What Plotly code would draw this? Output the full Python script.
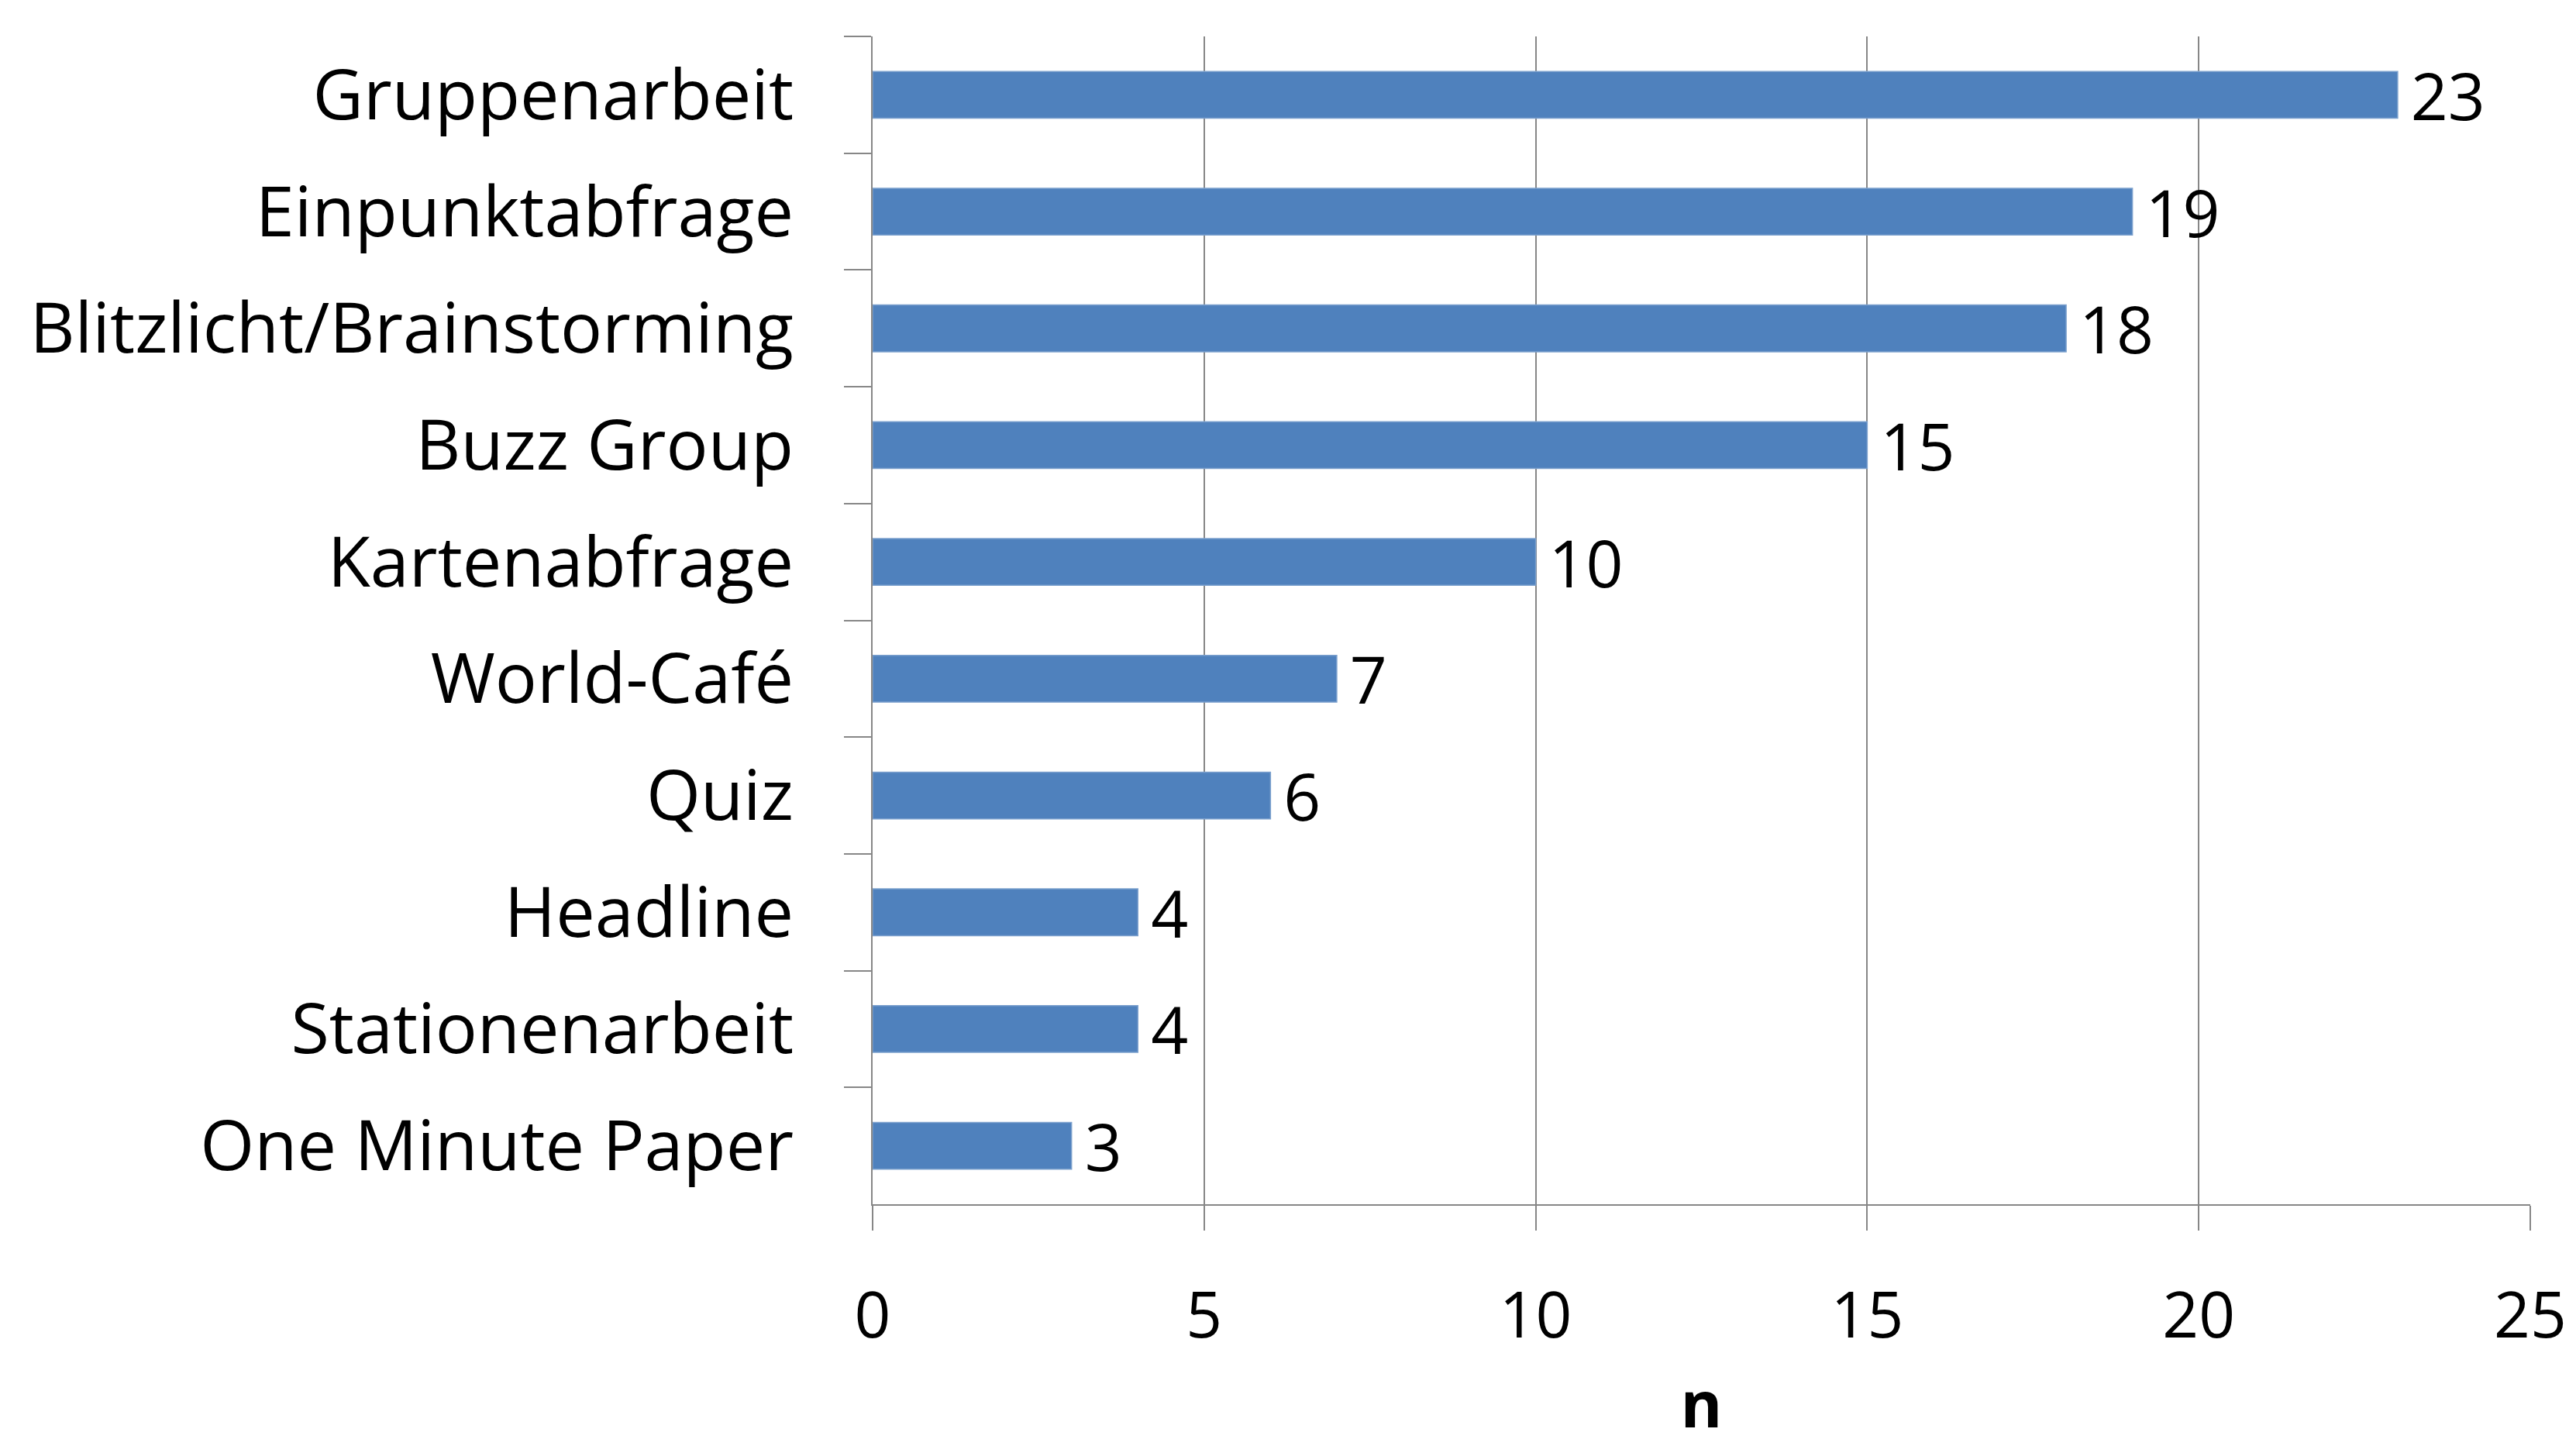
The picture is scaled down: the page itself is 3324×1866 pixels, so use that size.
import plotly.graph_objects as go

categories = ["Gruppenarbeit", "Einpunktabfrage", "Blitzlicht/Brainstorming", "Buzz Group",
              "Kartenabfrage", "World-Café", "Quiz", "Headline", "Stationenarbeit", "One Minute Paper"]
values = [23, 19, 18, 15, 10, 7, 6, 4, 4, 3]
x_ticks = [0, 5, 10, 15, 20, 25]

FONT = "Open Sans"
GRAY = "#878787"

fig = go.Figure(go.Bar(
    x=values, y=categories, orientation="h",
    marker=dict(color="#4F81BD", line=dict(color="#7BA0CD", width=1.5)),
    width=0.4,
    texttemplate="\u2009%{x}", textposition="outside", constraintext="none",
    textfont=dict(family=FONT, size=84, color="black"),
    cliponaxis=False,
))

fig.update_layout(
    width=3324, height=1866,
    margin=dict(l=1126, r=59, t=47, b=312),
    paper_bgcolor="white", plot_bgcolor="white",
    showlegend=False,
    font=dict(family=FONT, color="black"),
    bargap=0.6,
)
fig.update_xaxes(
    range=[0, 25], tickvals=x_ticks, ticktext=[str(t) for t in x_ticks],
    showgrid=True, gridcolor=GRAY, gridwidth=2,
    showline=True, linecolor=GRAY, linewidth=2,
    ticks="outside", ticklen=32, tickcolor=GRAY, tickwidth=2,
    tickfont=dict(family=FONT, size=82, color="black"),
    ticklabelstandoff=40,
    zeroline=False, automargin=False,
    title=dict(text="<b>n</b>", font=dict(family=FONT, size=82, color="black"), standoff=70),
)
fig.update_yaxes(
    categoryorder="array", categoryarray=categories, autorange="reversed",
    showgrid=False, automargin=False,
    showline=True, linecolor=GRAY, linewidth=2,
    ticks="outside", ticklen=35, tickcolor=GRAY, tickwidth=2, tickson="boundaries",
    tickfont=dict(family=FONT, size=90, color="black"),
    ticklabelstandoff=82,
)

fig.write_html("out.html")
